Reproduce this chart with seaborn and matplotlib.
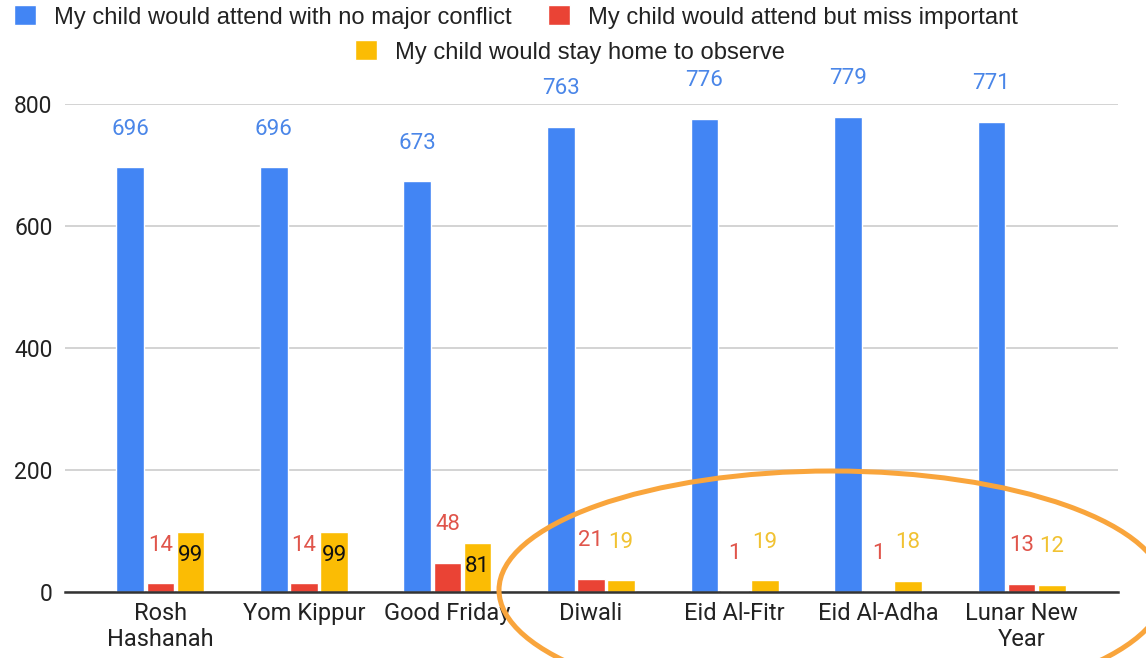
import pandas as pd
import matplotlib
matplotlib.use('Agg')
import matplotlib.pyplot as plt
from matplotlib.patches import Ellipse
import seaborn as sns

# data
holidays = ['Rosh\nHashanah', 'Yom Kippur', 'Good Friday', 'Diwali',
            'Eid Al-Fitr', 'Eid Al-Adha', 'Lunar New\nYear']
responses = ['My child would attend with no major conflict',
             'My child would attend but miss important',
             'My child would stay home to observe']
no_conflict = [696, 696, 673, 763, 776, 779, 771]
miss_important = [14, 14, 48, 21, 1, 1, 13]
stay_home = [99, 99, 81, 19, 19, 18, 12]
y_ticks = [0, 200, 400, 600, 800]

bar_colors = ['#4285F4', '#EA4335', '#FBBC04']
text_colors = ['#4a86e8', '#e0554b', '#f1c232']

sns.set_style('white')
plt.rcParams['font.family'] = ['Roboto', 'DejaVu Sans']

rows = []
for resp, vals in zip(responses, [no_conflict, miss_important, stay_home]):
    for h, v in zip(holidays, vals):
        rows.append({'Holiday': h, 'Response': resp, 'Count': v})
df = pd.DataFrame(rows)

W, H = 1146, 658
fig = plt.figure(figsize=(W / 100, H / 100), dpi=100)
ax = fig.add_axes([65 / W, 66 / H, (1118 - 65) / W, (592 - 104) / H])

sns.barplot(data=df, x='Holiday', y='Count', hue='Response', order=holidays,
            hue_order=responses, palette=bar_colors, saturation=1,
            width=0.63, gap=0.08, errorbar=None, ax=ax)

handles, labels = ax.get_legend_handles_labels()
ax.get_legend().remove()

ax.set_xlim(-0.665, 6.672)
ax.set_ylim(0, 800)
ax.set_yticks(y_ticks)
ax.set_xlabel('')
ax.set_ylabel('')
ax.yaxis.grid(True, color='#cccccc', lw=1.2)
ax.xaxis.grid(False)
ax.set_axisbelow(True)
for s in ['top', 'left', 'right']:
    ax.spines[s].set_visible(False)
ax.spines['bottom'].set_color('#333333')
ax.spines['bottom'].set_linewidth(1.8)
ax.tick_params(axis='y', length=0, pad=9, labelsize=16.5, labelcolor='#222222')
ax.tick_params(axis='x', length=0, pad=7, labelsize=17, labelcolor='#222222')

# value labels
for cont, vals, tc in zip(ax.containers, [no_conflict, miss_important, stay_home], text_colors):
    for bar, v in zip(cont, vals):
        cx = bar.get_x() + bar.get_width() / 2
        top = bar.get_height()
        if tc == text_colors[2] and v > 50:
            ax.annotate(str(v), (cx, top), xytext=(0, -17), textcoords='offset points',
                        ha='center', va='center', fontsize=16, color='#111111')
        else:
            ax.annotate(str(v), (cx, top), xytext=(0, 27.5), textcoords='offset points',
                        ha='center', va='center', fontsize=16, color=tc)

# legend: two rows
leg_font = ['Liberation Sans', 'DejaVu Sans']
pos = [(14, 17), (548, 17), (355, 52)]
for hnd, lab, (px, py) in zip(handles, labels, pos):
    lg = fig.legend([hnd], [lab], loc='center left', bbox_to_anchor=(px / W, 1 - py / H),
                    frameon=False, borderpad=0, borderaxespad=0, handlelength=0.92,
                    handleheight=0.92, handletextpad=0.75,
                    prop={'family': leg_font, 'size': 17.1})
    for t in lg.get_texts():
        t.set_color('#222222')

# highlight ellipse
ell = Ellipse((8.32, 0.68), 6.66, 2.38, transform=fig.dpi_scale_trans,
              fill=False, edgecolor='#f9a53c', lw=3.6)
fig.add_artist(ell)

fig.savefig('out.png', dpi=100)
